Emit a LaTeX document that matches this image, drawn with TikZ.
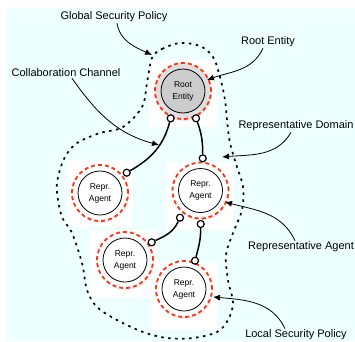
\documentclass[tikz,border=0pt]{standalone}
\usepackage{fontspec}
\setmainfont{Liberation Sans}
\usepackage{tikz}
\usetikzlibrary{arrows.meta,shadows}
\pgfdeclarelayer{squarelayer}
\pgfdeclarelayer{edgelayer}
\pgfsetlayers{squarelayer,edgelayer,main}
\definecolor{paper}{HTML}{EEFFFF}
\definecolor{ringred}{HTML}{FF3311}
\tikzstyle{agent}=[circle, draw=ringred, line width=1.8pt, dash pattern=on 4pt off 3pt, fill=white, minimum size=56pt, inner sep=0pt, align=center, font=\fontsize{8.5}{12}\selectfont, drop shadow={opacity=0.15, shadow xshift=1pt, shadow yshift=-2pt}, path picture={\draw[black, line width=0.8pt, solid] (path picture bounding box.center) circle (22pt);}]
\tikzstyle{rootent}=[circle, draw=ringred, line width=1.8pt, dash pattern=on 4pt off 3pt, fill=gray!25, minimum size=56pt, inner sep=0pt, align=center, font=\fontsize{8.5}{12}\selectfont, drop shadow={opacity=0.15, shadow xshift=1pt, shadow yshift=-2pt}, path picture={\filldraw[fill=gray!40, draw=black, line width=0.8pt, solid] (path picture bounding box.center) circle (22pt);}]
\tikzstyle{port}=[circle, draw=black, fill=white, line width=1.2pt, minimum size=7pt, inner sep=0pt]
\tikzstyle{channel}=[draw=black, line width=1.5pt]
\tikzstyle{callout}=[draw=black, line width=0.8pt, -{Latex[length=7pt,width=6pt]}]
\tikzstyle{lbl}=[font=\fontsize{11}{13}\selectfont, inner sep=1pt]
\tikzstyle{policyline}=[draw=black, line width=1.7pt, dash pattern=on 2.5pt off 4.5pt]

\begin{document}
\begin{tikzpicture}[x=1pt,y=1pt]
\useasboundingbox (0,0) rectangle (355,341);
\begin{pgfonlayer}{squarelayer}
\fill[paper] (6,0) rectangle (355,333);
\fill[white] (149,214) rectangle (217,281);
\fill[white] (67,114) rectangle (133,181);
\fill[white] (167,111) rectangle (234,179);
\fill[white] (90,43) rectangle (157,111);
\fill[white] (151,11) rectangle (218,78);
\end{pgfonlayer}
% entities
\node[rootent] (root) at (183,250) {Root\\Entity};
\node[agent] (left) at (100,148) {Repr.\\Agent};
\node[agent] (mid) at (200.5,150.5) {Repr.\\Agent};
\node[agent] (low) at (125,81) {Repr.\\Agent};
\node[agent] (bot) at (184,52) {Repr.\\Agent};
% ports
\node[port] (rootL) at (170.7,222.7) {};
\node[port] (rootR) at (196,222.7) {};
\node[port] (leftP) at (126.7,168.3) {};
\node[port] (midT) at (202.7,182.7) {};
\node[port] (midL) at (180,123.3) {};
\node[port] (midB) at (200.7,117) {};
\node[port] (lowP) at (151.7,98.7) {};
\node[port] (botP) at (195,80.3) {};
\begin{pgfonlayer}{edgelayer}
\draw[channel] (rootL) to[out=-105,in=30] (leftP);
\draw[channel] (rootR) to[out=-70,in=90] (midT);
\draw[channel] (midL) to[out=-115,in=25] (lowP);
\draw[channel] (midB) to[out=-90,in=75] (botP);
\end{pgfonlayer}
% representative domain
\draw[policyline] plot[smooth cycle, tension=0.55] coordinates {(152,283) (162,292) (180,298) (200,295) (213,284) (220,264) (225,241) (227,221) (230,198) (237,174) (243,154) (242,131) (233,108) (226,86) (228,61) (233,38) (228,21) (217,9) (193,3) (167,3) (143,9) (117,21) (97,34) (87,51) (82,78) (72,108) (62,124) (57,148) (58,164) (65,184) (77,198) (100,208) (123,214) (142,234) (147,258)};
% labels
\node[lbl] (glbl) at (114,324) {Global Security Policy};
\node[lbl] (rootlbl) at (268,299) {Root Entity};
\node[lbl] (collab) at (66,268) {Collaboration Channel};
\node[lbl] (repdom) at (296,215) {Representative Domain};
\node[lbl] (repagt) at (301,94) {Representative Agent};
\node[lbl] (localsp) at (296,6) {Local Security Policy};
\coordinate (glbltip) at (152,286);
\coordinate (roottip) at (207,261);
\coordinate (collabtip) at (159,196);
\coordinate (domtip) at (222,184);
\coordinate (agttip) at (225,139);
\coordinate (localtip) at (213,44);
\draw[callout] ([xshift=3pt]glbl.south) to[out=-80,in=155] (glbltip);
\draw[callout] ([xshift=-5pt]rootlbl.south) to[out=-115,in=20] (roottip);
\draw[callout] ([xshift=6pt]collab.south) to[out=-55,in=165] (collabtip);
\draw[callout] ([xshift=-5pt]repdom.south) to[out=-120,in=5] (domtip);
\draw[callout] ([xshift=-6pt]repagt.north) to[out=115,in=-15] (agttip);
\draw[callout] ([xshift=-11pt]localsp.north) to[out=115,in=-5] (localtip);
\end{tikzpicture}
\end{document}
